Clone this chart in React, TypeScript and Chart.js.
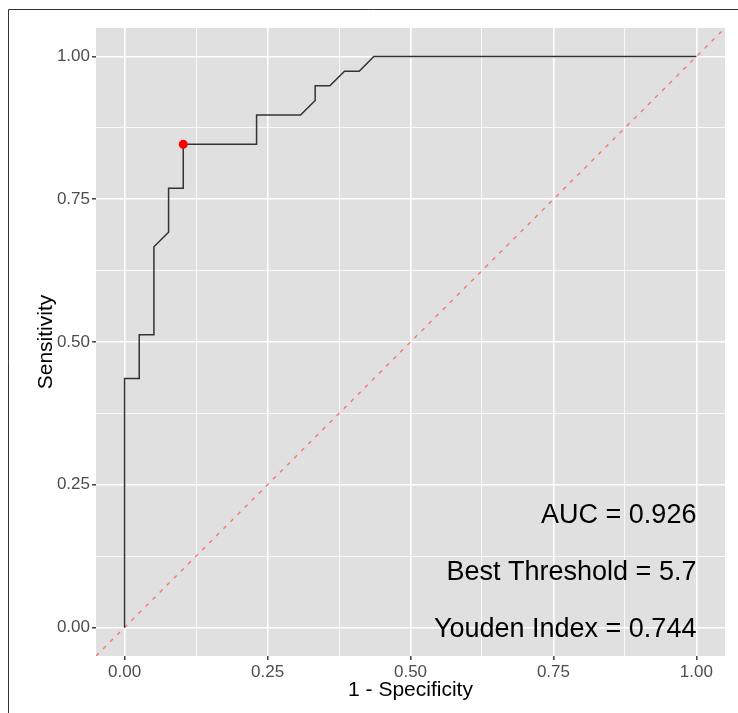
import React, { useEffect, useRef } from "react";
import { Chart, registerables } from "chart.js";

Chart.register(...registerables);

// ROC curve (1 - specificity, sensitivity)
const fpr = [0, 0, 0.0256, 0.0256, 0.0513, 0.0513, 0.0769, 0.0769, 0.1026, 0.1026, 0.2308, 0.2308, 0.3077, 0.3333, 0.3333, 0.359, 0.3846, 0.4103, 0.4359, 1];
const tpr = [0, 0.4359, 0.4359, 0.5128, 0.5128, 0.6667, 0.6923, 0.7692, 0.7692, 0.8462, 0.8462, 0.8974, 0.8974, 0.9231, 0.9487, 0.9487, 0.9744, 0.9744, 1, 1];

// best threshold point
const bestPoint = { x: 0.1026, y: 0.8462 };

// reference diagonal
const diagX = [-0.05, 1.05];
const diagY = [-0.05, 1.05];

const majorTicks = [0, 0.25, 0.5, 0.75, 1];
const minorTicks = [0.125, 0.375, 0.625, 0.875];
const tickLabels = ["0.00", "0.25", "0.50", "0.75", "1.00"];

const annotations = [
  { x: 1, y: 0.2, text: "AUC = 0.926" },
  { x: 1, y: 0.1, text: "Best Threshold = 5.7" },
  { x: 1, y: 0, text: "Youden Index = 0.744" },
];

const FONT = "'Liberation Sans', Arial, Helvetica, sans-serif";
const PANEL_BG = "#E0E0E0";

function isMajor(v: number) {
  return majorTicks.some((m) => Math.abs(m - v) < 1e-9);
}

function buildTicks(scale: any) {
  const all = [...majorTicks, ...minorTicks].sort((a, b) => a - b);
  scale.ticks = all.map((v) => ({ value: v }));
}

function tickCallback(value: any) {
  const i = majorTicks.findIndex((m) => Math.abs(m - Number(value)) < 1e-9);
  return i >= 0 ? tickLabels[i] : "";
}

const gridOpts = {
  color: (ctx: any) => "#FFFFFF",
  lineWidth: (ctx: any) => (ctx.tick && isMajor(ctx.tick.value) ? 1.6 : 0.8),
  tickColor: (ctx: any) => (ctx.tick && isMajor(ctx.tick.value) ? "#333333" : "rgba(0,0,0,0)"),
  tickWidth: 1.4,
  tickLength: 4,
  drawTicks: true,
};

const bgPlugin = {
  id: "panelBg",
  beforeDraw(chart: any) {
    const { ctx, chartArea } = chart;
    ctx.save();
    ctx.fillStyle = "#FFFFFF";
    ctx.fillRect(0, 0, chart.width, chart.height);
    ctx.fillStyle = PANEL_BG;
    ctx.fillRect(chartArea.left, chartArea.top, chartArea.right - chartArea.left, chartArea.bottom - chartArea.top);
    // outer frame
    ctx.strokeStyle = "#333333";
    ctx.lineWidth = 1;
    ctx.beginPath();
    ctx.moveTo(8.5, chart.height);
    ctx.lineTo(8.5, 9.5);
    ctx.lineTo(chart.width, 9.5);
    ctx.stroke();
    ctx.restore();
  },
};

const textPlugin = {
  id: "annotText",
  afterDatasetsDraw(chart: any) {
    const { ctx, scales } = chart;
    ctx.save();
    ctx.fillStyle = "#000000";
    ctx.font = `27px ${FONT}`;
    ctx.textAlign = "right";
    ctx.textBaseline = "alphabetic";
    for (const a of annotations) {
      const px = scales.x.getPixelForValue(a.x);
      const py = scales.y.getPixelForValue(a.y);
      ctx.fillText(a.text, px, py + 9.6);
    }
    ctx.restore();
  },
};

export default function App() {
  const ref = useRef<HTMLCanvasElement | null>(null);

  useEffect(() => {
    if (!ref.current) return;
    const chart = new Chart(ref.current, {
      type: "scatter",
      data: {
        datasets: [
          {
            data: [bestPoint],
            pointRadius: 4.5,
            pointBackgroundColor: "#FF0000",
            pointBorderColor: "#FF0000",
            pointBorderWidth: 0,
            showLine: false,
          },
          {
            data: fpr.map((x, i) => ({ x, y: tpr[i] })),
            showLine: true,
            borderColor: "#333333",
            borderWidth: 1.5,
            pointRadius: 0,
            tension: 0,
          },
          {
            data: diagX.map((x, i) => ({ x, y: diagY[i] })),
            showLine: true,
            borderColor: "#F8766D",
            borderWidth: 1.4,
            borderDash: [4, 6],
            pointRadius: 0,
            tension: 0,
          },
        ],
      },
      options: {
        responsive: false,
        animation: false,
        devicePixelRatio: 1,
        layout: { padding: { left: 0, top: 28, right: 13, bottom: 0 } },
        plugins: {
          legend: { display: false },
          tooltip: { enabled: false },
        },
        scales: {
          x: {
            type: "linear",
            min: -0.05,
            max: 1.05,
            afterBuildTicks: buildTicks,
            afterFit: (s: any) => {
              s.height = 57;
            },
            border: { display: false },
            grid: gridOpts as any,
            ticks: {
              callback: tickCallback,
              autoSkip: false,
              maxRotation: 0,
              color: "#4D4D4D",
              padding: 2,
              font: { family: FONT, size: 17 },
            },
            title: {
              display: true,
              text: "1 - Specificity",
              color: "#000000",
              font: { family: FONT, size: 21 },
              padding: { top: 0, bottom: 10 },
            },
          },
          y: {
            type: "linear",
            min: -0.05,
            max: 1.05,
            afterBuildTicks: buildTicks,
            afterFit: (s: any) => {
              s.width = 96;
            },
            border: { display: false },
            grid: gridOpts as any,
            ticks: {
              callback: tickCallback,
              autoSkip: false,
              color: "#4D4D4D",
              padding: 2,
              font: { family: FONT, size: 17 },
            },
            title: {
              display: true,
              text: "Sensitivity",
              color: "#000000",
              font: { family: FONT, size: 21 },
              padding: { top: 34, bottom: 0 },
            },
          },
        },
      },
      plugins: [bgPlugin, textPlugin],
    });
    return () => chart.destroy();
  }, []);

  return (
    <div style={{ position: "fixed", left: 0, top: 0, width: 738, height: 713 }}>
      <canvas ref={ref} width={738} height={713} style={{ width: 738, height: 713, display: "block" }} />
    </div>
  );
}
